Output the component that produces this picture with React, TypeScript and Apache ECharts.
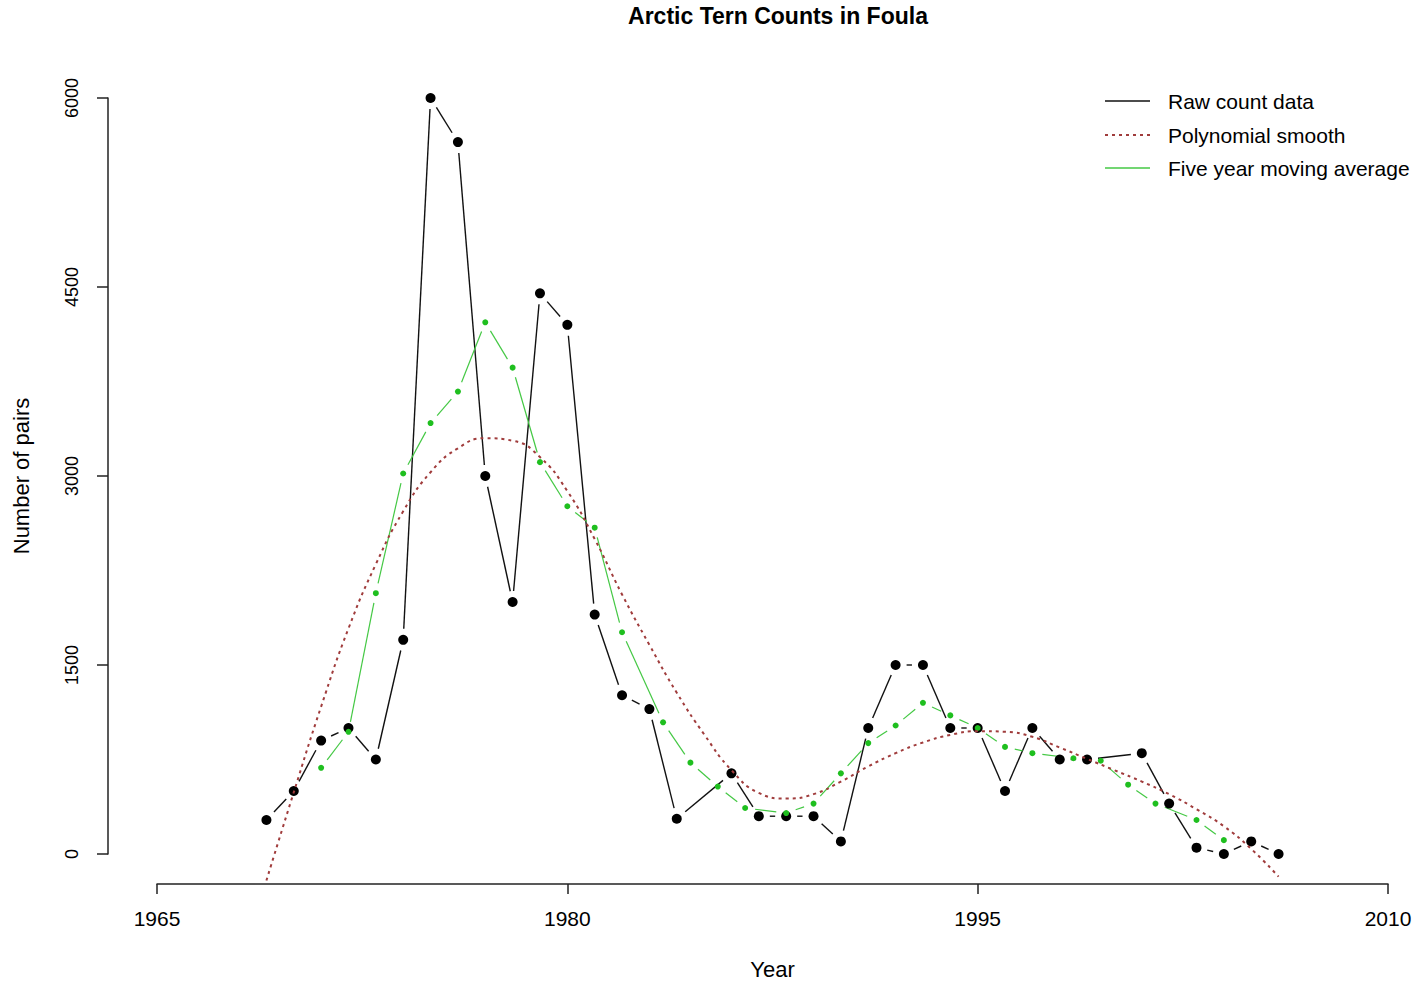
import React, { useEffect, useRef } from "react";
import * as echarts from "echarts";

// Raw counts (years 1985 and 2000 absent in the record)
const rawYears = [1969, 1970, 1971, 1972, 1973, 1974, 1975, 1976, 1977, 1978, 1979, 1980, 1981, 1982, 1983, 1984, 1986, 1987, 1988, 1989, 1990, 1991, 1992, 1993, 1994, 1995, 1996, 1997, 1998, 1999, 2001, 2002, 2003, 2004, 2005, 2006];
const rawPairs = [270, 500, 900, 1000, 750, 1700, 6000, 5650, 3000, 2000, 4450, 4200, 1900, 1260, 1150, 280, 640, 300, 300, 300, 100, 1000, 1500, 1500, 1000, 1000, 500, 1000, 750, 750, 800, 400, 50, 0, 100, 0];

// Five year moving average (positions as drawn)
const maYears = [1971, 1972, 1973, 1974, 1975, 1976, 1977, 1978, 1979, 1980, 1981, 1982, 1983.5, 1984.5, 1985.5, 1986.5, 1988, 1989, 1990, 1991, 1992, 1993, 1994, 1995, 1996, 1997, 1998.5, 1999.5, 2000.5, 2001.5, 2003, 2004];
const maPairs = [684, 970, 2070, 3020, 3420, 3670, 4220, 3860, 3110, 2760, 2590, 1760, 1045, 725, 535, 365, 325, 400, 640, 880, 1020, 1200, 1100, 1000, 850, 800, 760, 740, 550, 400, 270, 110];

// Polynomial smooth
const polyYears = [1969, 1970, 1971, 1972, 1973, 1974, 1975, 1976, 1977, 1978, 1979, 1980, 1981, 1982, 1983, 1984, 1985, 1986, 1987, 1988, 1989, 1990, 1991, 1992, 1993, 1994, 1995, 1996, 1997, 1998, 1999, 2000, 2001, 2002, 2003, 2004, 2005, 2006];
const polyPairs = [-210, 490, 1170, 1790, 2300, 2720, 3030, 3220, 3300, 3280, 3150, 2880, 2500, 2060, 1660, 1280, 950, 665, 485, 440, 475, 575, 695, 800, 885, 945, 975, 970, 930, 845, 755, 665, 575, 475, 355, 220, 40, -180];

const xTicks = [1965, 1980, 1995, 2010];
const yTicks = [0, 1500, 3000, 4500, 6000];
const legendLabels = ["Raw count data", "Polynomial smooth", "Five year moving average"];

const FONT = '"Liberation Sans", Arial, Helvetica, sans-serif';
const BLACK = "#111111";
const POLY = "#a03c3c";
const GREEN_PT = "#1fbf1f";
const GREEN_LN = "#44c844";

function segments(xs: number[], ys: number[]) {
  const out: number[][] = [];
  for (let i = 0; i < xs.length - 1; i++) out.push([xs[i], ys[i], xs[i + 1], ys[i + 1]]);
  return out;
}

function gapRender(color: string, width: number, gap: number) {
  return (_params: any, api: any) => {
    const a = api.coord([api.value(0), api.value(1)]);
    const b = api.coord([api.value(2), api.value(3)]);
    const dx = b[0] - a[0];
    const dy = b[1] - a[1];
    const len = Math.hypot(dx, dy);
    if (len <= 2 * gap) return { type: "group", children: [] };
    const ux = dx / len;
    const uy = dy / len;
    return {
      type: "line",
      shape: { x1: a[0] + ux * gap, y1: a[1] + uy * gap, x2: b[0] - ux * gap, y2: b[1] - uy * gap },
      style: { stroke: color, lineWidth: width },
    };
  };
}

export default function App() {
  const ref = useRef<HTMLDivElement>(null);

  useEffect(() => {
    if (!ref.current) return;
    const chart = echarts.init(ref.current, null, { renderer: "svg" });
    const legendYs = [101, 135, 168];
    const option: any = {
      animation: false,
      backgroundColor: "#ffffff",
      title: {
        text: "Arctic Tern Counts in Foula",
        left: 773,
        textAlign: "center",
        top: -1,
        textStyle: { fontFamily: FONT, fontSize: 23, fontWeight: "bold", color: "#000" },
      },
      grid: { left: 157, right: 30, top: 98, bottom: 131 },
      xAxis: {
        type: "value",
        min: xTicks[0],
        max: xTicks[xTicks.length - 1],
        interval: xTicks[1] - xTicks[0],
        offset: 30,
        name: "Year",
        nameLocation: "middle",
        nameGap: 74,
        nameTextStyle: { fontFamily: FONT, fontSize: 22, color: "#000" },
        axisLine: { show: true, onZero: false, lineStyle: { color: "#222", width: 1.5 } },
        axisTick: { show: true, length: 10, lineStyle: { color: "#222", width: 1.5 } },
        axisLabel: { fontFamily: FONT, fontSize: 21, color: "#000", margin: 24, formatter: (v: number) => String(v) },
        splitLine: { show: false },
      },
      yAxis: {
        type: "value",
        min: yTicks[0],
        max: yTicks[yTicks.length - 1],
        interval: yTicks[1] - yTicks[0],
        offset: 49,
        name: "Number of pairs",
        nameLocation: "middle",
        nameGap: 76,
        nameTextStyle: { fontFamily: FONT, fontSize: 22, color: "#000" },
        axisLine: { show: true, onZero: false, lineStyle: { color: "#222", width: 1.5 } },
        axisTick: { show: true, length: 11, lineStyle: { color: "#222", width: 1.5 } },
        axisLabel: { fontFamily: FONT, fontSize: 18, color: "#000", rotate: 90, margin: 27, formatter: (v: number) => String(v) },
        splitLine: { show: false },
      },
      series: [
        {
          type: "custom",
          name: legendLabels[0],
          renderItem: gapRender(BLACK, 1.4, 11),
          data: segments(rawYears, rawPairs),
          encode: { x: [0, 2], y: [1, 3] },
          clip: false,
        },
        {
          type: "scatter",
          name: legendLabels[0] + " points",
          data: rawYears.map((y, i) => [y, rawPairs[i]]),
          symbol: "circle",
          symbolSize: 10,
          itemStyle: { color: "#000", opacity: 1 },
        },
        {
          type: "line",
          name: legendLabels[1],
          data: polyYears.map((y, i) => [y, polyPairs[i]]),
          smooth: true,
          showSymbol: false,
          symbol: "none",
          clip: false,
          lineStyle: { color: POLY, width: 2, type: [3, 4] },
        },
        {
          type: "custom",
          name: legendLabels[2],
          renderItem: gapRender(GREEN_LN, 1.2, 10),
          data: segments(maYears, maPairs),
          encode: { x: [0, 2], y: [1, 3] },
          clip: false,
        },
        {
          type: "scatter",
          name: legendLabels[2] + " points",
          data: maYears.map((y, i) => [y, maPairs[i]]),
          symbol: "circle",
          symbolSize: 6,
          itemStyle: { color: GREEN_PT, opacity: 1 },
        },
      ],
      graphic: [
        {
          type: "group",
          children: [
            { type: "line", shape: { x1: 1105, y1: legendYs[0], x2: 1150, y2: legendYs[0] }, style: { stroke: BLACK, lineWidth: 1.4 } },
            { type: "line", shape: { x1: 1105, y1: legendYs[1], x2: 1150, y2: legendYs[1] }, style: { stroke: POLY, lineWidth: 2, lineDash: [3, 4] } },
            { type: "line", shape: { x1: 1105, y1: legendYs[2], x2: 1150, y2: legendYs[2] }, style: { stroke: GREEN_LN, lineWidth: 1.4 } },
            ...legendLabels.map((t, i) => ({
              type: "text",
              x: 1168,
              y: legendYs[i],
              style: { text: t, font: `21px ${FONT}`, fill: "#000", textAlign: "left", textVerticalAlign: "middle" },
            })),
          ],
        },
      ],
    };
    chart.setOption(option);
    return () => chart.dispose();
  }, []);

  return <div ref={ref} style={{ position: "fixed", left: 0, top: 0, width: 1418, height: 985, background: "#fff" }} />;
}
